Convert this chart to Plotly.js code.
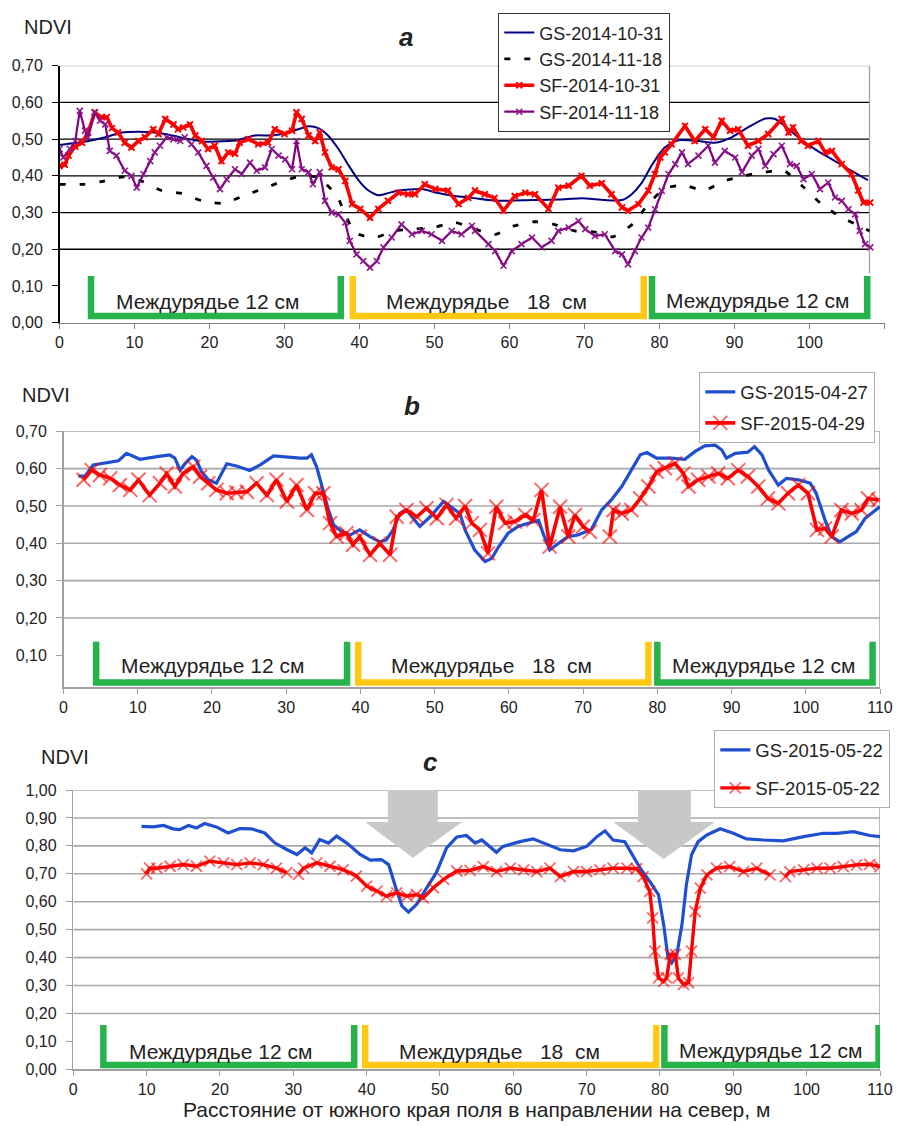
<!DOCTYPE html>
<html><head><meta charset="utf-8">
<script src="https://cdn.plot.ly/plotly-3.0.1.min.js"></script>
<style>html,body{margin:0;padding:0;background:#fff}</style>
</head><body><div id="chart" style="width:897px;height:1126px"></div>
<script>
// ---------- DATA (distance m, NDVI) ----------
// Panel a
const aGS1031 = [[0,0.484],[3.9,0.495],[6.1,0.505],[8.3,0.518],[10.5,0.52],[12.7,0.518],[15,0.51],[17.2,0.50],[19.4,0.493],[21.6,0.494],[23.8,0.497],[26,0.51],[28.3,0.51],[30.5,0.518],[33.2,0.535],[34.5,0.53],[35.8,0.51],[37.2,0.473],[38.5,0.43],[39.8,0.39],[41.2,0.36],[42.5,0.347],[43.8,0.353],[45.2,0.36],[48.3,0.364],[50.5,0.353],[52.7,0.345],[55,0.34],[58.5,0.332],[63,0.334],[67.4,0.336],[69.6,0.339],[72.7,0.334],[75,0.334],[76.3,0.35],[77.6,0.38],[79,0.43],[80.7,0.477],[82.5,0.497],[85.2,0.495],[87.4,0.49],[89.6,0.505],[91.8,0.532],[94.1,0.556],[95.4,0.555],[96.7,0.536],[98.5,0.505],[100.7,0.473],[103,0.445],[105.2,0.418],[107.8,0.388]];
const aGS1118 = [[0,0.377],[3.2,0.377],[5.8,0.385],[8.5,0.397],[11,0.385],[13.6,0.36],[16.3,0.352],[19,0.332],[21.8,0.325],[24.5,0.345],[27,0.364],[29.6,0.384],[32.3,0.40],[34.5,0.395],[37,0.345],[38,0.30],[39.4,0.245],[42,0.232],[44.7,0.25],[47.4,0.255],[50,0.26],[52.7,0.273],[55.4,0.255],[58,0.24],[60.5,0.263],[63.4,0.275],[65.9,0.268],[68.7,0.25],[71.4,0.247],[73.8,0.234],[76.5,0.27],[78.5,0.323],[80.7,0.365],[83.2,0.375],[85.9,0.36],[88.5,0.385],[91.2,0.40],[94.1,0.41],[96.5,0.415],[99,0.373],[101.6,0.323],[104,0.29],[107,0.26],[108,0.25]];
const aSF1031 = [[0,0.427],[0.7,0.43],[1.2,0.455],[2.1,0.48],[3,0.49],[3.8,0.518],[4.7,0.573],[5.6,0.56],[6.3,0.56],[7,0.53],[7.8,0.518],[8.7,0.49],[9.6,0.477],[10.5,0.495],[11.4,0.505],[12.5,0.527],[13.2,0.514],[14.1,0.555],[15.2,0.54],[15.8,0.527],[16.5,0.532],[17.4,0.54],[18.1,0.51],[19,0.495],[19.8,0.473],[20.7,0.482],[21.6,0.44],[22.5,0.464],[23.4,0.46],[24,0.49],[25.2,0.50],[26.5,0.486],[27.8,0.49],[28.7,0.527],[30,0.514],[31,0.523],[31.6,0.573],[32.3,0.555],[33.2,0.51],[34.1,0.495],[34.7,0.518],[35.4,0.464],[36.3,0.423],[37.2,0.418],[38.1,0.386],[39,0.323],[40.1,0.31],[41.4,0.286],[42.5,0.31],[43.8,0.332],[45.2,0.354],[46.5,0.35],[47.4,0.35],[48.7,0.377],[50.1,0.364],[51.8,0.36],[53.2,0.323],[54.5,0.34],[55.4,0.36],[56.7,0.35],[58,0.34],[59.2,0.305],[60.7,0.345],[62.1,0.354],[63.4,0.35],[65.2,0.31],[66.5,0.368],[67.9,0.373],[69.6,0.40],[70.7,0.373],[72.3,0.38],[73.6,0.35],[75,0.314],[75.8,0.305],[77.2,0.323],[78.5,0.36],[79.4,0.405],[80.1,0.45],[80.7,0.464],[81.6,0.486],[83.4,0.536],[84.7,0.495],[86.1,0.527],[87.2,0.505],[88.3,0.55],[89.4,0.523],[90.5,0.527],[91.8,0.482],[93.2,0.495],[94.5,0.514],[96.3,0.555],[97.2,0.518],[97.8,0.532],[98.9,0.495],[99.8,0.482],[101.2,0.495],[102.1,0.464],[103,0.468],[104.3,0.432],[105.6,0.405],[106.5,0.36],[107.2,0.327],[108.1,0.327]];
const aSF1118 = [[0,0.473],[0.5,0.45],[1.4,0.473],[2.1,0.495],[2.7,0.577],[3.4,0.523],[3.8,0.505],[4.7,0.573],[5.4,0.55],[6.1,0.54],[6.7,0.468],[7.6,0.455],[8.7,0.414],[9.6,0.40],[10.3,0.368],[11.2,0.405],[12.1,0.44],[12.7,0.464],[13.4,0.482],[14.3,0.505],[15.2,0.50],[16.1,0.495],[16.7,0.505],[17.6,0.486],[18.5,0.464],[19.6,0.427],[20.5,0.395],[21.4,0.364],[22.3,0.39],[23.4,0.418],[24.3,0.405],[25.4,0.436],[26.3,0.414],[27.4,0.423],[28.3,0.473],[29.2,0.455],[30.1,0.445],[31,0.418],[31.6,0.495],[32.3,0.418],[33.2,0.41],[33.8,0.377],[34.7,0.41],[35.4,0.332],[36.3,0.30],[37.2,0.295],[38.1,0.273],[38.7,0.223],[39.6,0.186],[40.5,0.168],[41.4,0.15],[42.3,0.168],[43.2,0.205],[44.3,0.232],[45.6,0.268],[47,0.241],[48.3,0.25],[49.6,0.241],[51,0.223],[52.3,0.25],[53.6,0.241],[55,0.264],[55.4,0.25],[57.2,0.214],[58.1,0.195],[59.2,0.155],[60.3,0.195],[61.6,0.214],[63,0.232],[64.3,0.205],[65.6,0.223],[66.5,0.25],[67.9,0.259],[69.2,0.277],[70.1,0.255],[71.4,0.236],[72.7,0.241],[74.1,0.195],[75,0.186],[75.8,0.159],[76.7,0.195],[77.6,0.232],[78.5,0.259],[79.4,0.309],[80.3,0.359],[81.2,0.405],[82.1,0.432],[83,0.464],[83.8,0.432],[85.2,0.455],[86.5,0.482],[87.4,0.436],[88.7,0.468],[90.1,0.45],[91,0.41],[92.3,0.455],[93.2,0.473],[94.1,0.427],[95.2,0.459],[96.3,0.482],[97.4,0.432],[98.3,0.427],[99.2,0.391],[100.3,0.405],[101.4,0.364],[102.5,0.382],[103.4,0.341],[104.3,0.332],[105.2,0.309],[106.1,0.295],[106.7,0.25],[107.4,0.214],[108.1,0.205]];
// Panel b
const bGS0427 = [[2,0.58],[2.9,0.58],[4,0.61],[5.4,0.614],[7.4,0.621],[8.5,0.641],[10.3,0.625],[12.6,0.632],[14.3,0.637],[15,0.628],[15.7,0.596],[16.4,0.614],[17.3,0.632],[17.9,0.623],[18.6,0.592],[19.5,0.57],[20.6,0.561],[22,0.613],[23.3,0.607],[25.1,0.595],[26.5,0.61],[28.3,0.634],[30.1,0.63],[31.9,0.628],[32.8,0.628],[33.4,0.637],[34.1,0.605],[35,0.543],[35.7,0.489],[36.4,0.449],[37.5,0.431],[38.6,0.422],[39.9,0.436],[41.3,0.418],[42.6,0.404],[43.5,0.409],[44.4,0.436],[45.3,0.48],[46.2,0.489],[48,0.445],[49.4,0.471],[51.2,0.512],[53.4,0.48],[54.1,0.436],[55.4,0.382],[56.8,0.351],[57.7,0.36],[58.6,0.39],[59.9,0.427],[61.3,0.446],[63.1,0.458],[64,0.462],[64.6,0.427],[65.5,0.382],[66.7,0.40],[68,0.418],[69.3,0.422],[71.1,0.437],[72.5,0.489],[73.8,0.516],[75.2,0.552],[76.5,0.596],[77.7,0.637],[78.6,0.643],[79.9,0.628],[81.9,0.628],[83.7,0.625],[85.1,0.646],[86.4,0.661],[87.8,0.663],[88.7,0.65],[89.3,0.628],[90.5,0.641],[92.2,0.644],[93.1,0.659],[94.1,0.637],[95,0.596],[96.3,0.556],[97.4,0.574],[99,0.57],[100.6,0.561],[101.4,0.534],[102.6,0.462],[103.5,0.418],[104.6,0.404],[105.7,0.418],[106.8,0.431],[108,0.467],[110,0.498]];
const bSF0429 = [[2.7,0.57],[3.8,0.596],[4.9,0.583],[6.3,0.574],[7.6,0.556],[9,0.543],[10.1,0.57],[11.6,0.529],[13,0.561],[13.9,0.587],[15,0.552],[16.1,0.587],[17.5,0.605],[18.4,0.579],[19.5,0.561],[20.6,0.543],[22,0.534],[23.3,0.536],[24.7,0.538],[26,0.561],[27.4,0.529],[28.7,0.57],[30.1,0.512],[31.4,0.556],[32.8,0.489],[33.9,0.534],[35,0.534],[35.9,0.454],[36.8,0.418],[38.1,0.427],[39,0.396],[39.9,0.418],[41.3,0.369],[42.6,0.40],[44,0.369],[44.9,0.471],[46.2,0.489],[47.6,0.471],[48.9,0.494],[50.3,0.467],[51.6,0.503],[52.9,0.467],[54.1,0.50],[55,0.454],[56.1,0.436],[57.2,0.373],[58.3,0.498],[59.5,0.454],[60.8,0.458],[62.2,0.476],[63.3,0.462],[64.4,0.543],[65.5,0.391],[66.9,0.498],[68,0.418],[68.9,0.476],[70,0.445],[70.9,0.431],[72,null],[73.6,0.418],[74.1,0.489],[75.2,0.48],[76.5,0.489],[77.7,0.52],[78.8,0.552],[79.9,0.592],[81,0.601],[82.4,0.614],[83.5,0.587],[84.2,0.552],[85.5,0.57],[86.9,0.579],[88.2,0.587],[89.5,0.574],[90.9,0.596],[92.2,0.579],[93.6,0.552],[94.9,0.52],[96.3,0.507],[97.6,0.534],[99,0.556],[100.3,0.534],[101.5,0.436],[102.6,0.44],[103.5,0.418],[104.8,0.489],[106.2,0.48],[107.5,0.489],[108.4,0.52],[109.8,0.516]];
// Panel c
const cGS0522 = [[9.3,0.87],[10.9,0.868],[12.3,0.873],[13.6,0.861],[14.5,0.858],[15.7,0.873],[16.8,0.864],[17.9,0.88],[19.5,0.868],[21.1,0.846],[22.7,0.862],[24.3,0.861],[26.1,0.846],[27.5,0.81],[29.1,0.787],[30.5,0.769],[31.6,0.793],[32.5,0.775],[33.6,0.823],[34.8,0.81],[35.9,0.835],[37.3,0.81],[39.1,0.769],[40.5,0.749],[42,0.751],[43,0.733],[43.9,0.656],[44.8,0.585],[45.7,0.563],[46.8,0.59],[48.2,0.65],[49.5,0.704],[50.9,0.793],[52.3,0.832],[53.6,0.837],[54.8,0.81],[55.7,0.821],[56.8,0.798],[57.7,0.777],[58.6,0.798],[60.9,0.815],[62.7,0.825],[64.6,0.804],[66.4,0.786],[68.2,0.782],[70,0.798],[71.4,0.833],[72.5,0.854],[73.6,0.821],[75.2,0.815],[76.1,0.774],[77.3,0.72],[78.6,0.673],[79.8,0.625],[80.5,0.518],[81.1,0.399],[81.6,0.381],[82.3,0.411],[83,0.518],[83.6,0.661],[84.3,0.768],[85.2,0.815],[86.4,0.839],[88.2,0.861],[90,0.845],[91.8,0.825],[94.1,0.821],[96.8,0.818],[99.6,0.833],[102.3,0.845],[104.1,0.845],[106.4,0.851],[108.6,0.837],[110,0.833]];
const cSF0522 = [[10,0.70],[10.4,0.72],[11.4,0.72],[13.2,0.727],[15,0.733],[16.8,0.727],[18.6,0.745],[20.5,0.739],[22.3,0.733],[24.1,0.739],[25.9,0.733],[27.7,0.72],[29.1,0.704],[29.8,null],[30.7,0.698],[31.4,0.72],[33.2,0.739],[35,0.727],[36.8,0.715],[38.6,0.692],[40,0.656],[41.4,0.638],[42.7,0.62],[44.1,0.632],[45.5,0.62],[46.8,0.626],[47.7,0.614],[49.1,0.65],[50.5,0.68],[52.3,0.71],[54.1,0.712],[55.9,0.726],[57.7,0.708],[59.6,0.72],[61.4,0.714],[63.2,0.708],[65,0.72],[66.4,0.69],[68.2,0.708],[70,0.708],[71.8,0.714],[73.6,0.72],[75.5,0.72],[76.8,0.718],[77.7,0.69],[78.6,0.637],[79,0.542],[79.3,0.423],[79.8,0.327],[80.5,0.315],[80.9,0.327],[81.4,0.411],[82.1,0.411],[82.5,0.327],[83.2,0.304],[83.9,0.31],[84.3,0.423],[84.8,0.565],[85.5,0.649],[86.4,0.696],[87.7,0.72],[89.5,0.726],[91.4,0.708],[93.2,0.72],[95,0.696],[96,null],[97.1,0.69],[97.7,0.708],[99.6,0.714],[101.4,0.72],[103.2,0.72],[105,0.726],[106.8,0.732],[108.6,0.734],[110,0.726]];

// zone labels and extents (m)
const zoneLabels = ['Междурядье 12 см', 'Междурядье\u00a0\u00a0\u00a018\u00a0\u00a0см', 'Междурядье 12 см'];
const xTicks = [0,10,20,30,40,50,60,70,80,90,100,110];

// ---------- helpers ----------
const FONT = 'Arial, "Liberation Sans", sans-serif';
const TXT = '#222';
const xs = d => d.map(p => p[0]);
const ys = d => d.map(p => p[1]);

const traces = [
  {x: xs(aGS1031), y: ys(aGS1031), xaxis:'x', yaxis:'y', name:'GS-2014-10-31', mode:'lines',
   line:{color:'#000080', width:2, shape:'spline', smoothing:0.6}, legend:'legend'},
  {x: xs(aGS1118), y: ys(aGS1118), xaxis:'x', yaxis:'y', name:'GS-2014-11-18', mode:'lines',
   line:{color:'#000', width:2.8, dash:'6px,14px', shape:'spline', smoothing:0.6}, legend:'legend'},
  {x: xs(aSF1031), y: ys(aSF1031), xaxis:'x', yaxis:'y', name:'SF-2014-10-31', mode:'lines+markers',
   line:{color:'#ff0000', width:3.6}, marker:{symbol:'x-thin', size:6, line:{color:'#ff0000', width:2}}, legend:'legend'},
  {x: xs(aSF1118), y: ys(aSF1118), xaxis:'x', yaxis:'y', name:'SF-2014-11-18', mode:'lines+markers',
   line:{color:'#800080', width:2.2}, marker:{symbol:'x-thin', size:6, line:{color:'#8a1a8a', width:1.6}}, legend:'legend'},

  {x: xs(bGS0427), y: ys(bGS0427), xaxis:'x2', yaxis:'y2', name:'GS-2015-04-27', mode:'lines',
   line:{color:'#1f4fd1', width:3.2}, legend:'legend2', legendgroup:'b1'},
  {x: xs(bSF0429), y: ys(bSF0429), xaxis:'x2', yaxis:'y2', name:'SF-2015-04-29', mode:'lines+markers',
   line:{color:'#ff0000', width:3.6}, marker:{symbol:'x-thin', size:14, line:{color:'rgba(255,0,0,0.6)', width:2}}, legend:'legend2', legendgroup:'b2'},

  {x: xs(cGS0522), y: ys(cGS0522), xaxis:'x3', yaxis:'y3', name:'GS-2015-05-22', mode:'lines',
   line:{color:'#1f4fd1', width:3.2}, legend:'legend3', legendgroup:'c1'},
  {x: xs(cSF0522), y: ys(cSF0522), xaxis:'x3', yaxis:'y3', name:'SF-2015-05-22', mode:'lines+markers',
   line:{color:'#ff0000', width:3.4}, marker:{symbol:'x-thin', size:11, line:{color:'rgba(255,0,0,0.6)', width:1.8}}, legend:'legend3', legendgroup:'c2'}
];

// ---------- layout decorations ----------
const shapes = [];
function hline(xr, yr, x0, x1, y, color, w){ shapes.push({type:'line', xref:xr, yref:yr, x0:x0, x1:x1, y0:y, y1:y, line:{color:color, width:w}, layer:'below'}); }
function vline(xr, yr, x, y0, y1, color, w){ shapes.push({type:'line', xref:xr, yref:yr, x0:x, x1:x, y0:y0, y1:y1, line:{color:color, width:w}, layer:'below'}); }
// panel a grid
[0.2,0.3,0.4,0.5,0.6].forEach(v => hline('x','y',0,108,v,'#000',1.3));
hline('x','y',0,108,0.7,'#a0a0a0',1.3);
vline('x','y',108,0.135,0.7,'#a0a0a0',1.3);
// panel b grid
[0.2,0.3,0.4,0.5,0.6,0.7].forEach(v => hline('x2','y2',0,110,v,'#a8a8a8',1.6));
vline('x2','y2',110,0.015,0.7,'#a8a8a8',1.6);
// panel c grid
[0.2,0.3,0.4,0.5,0.6,0.7,0.8,0.9,1.0].forEach(v => hline('x3','y3',0,110,v,'#a8a8a8',1.6));
vline('x3','y3',110,0,1.0,'#a8a8a8',1.6);

// brackets
const GREEN = '#27b34b', YEL = '#ffc814';
function bracket(xr, yr, xa, xb, top, bot, color){
  shapes.push({type:'path', xref:xr, yref:yr, path:`M${xa},${top} L${xa},${bot} L${xb},${bot} L${xb},${top}`,
    line:{color:color, width:6.5}, layer:'above'});
}
bracket('x','y',4.2,37.5,0.127,0.018,GREEN);
bracket('x','y',39.1,77.9,0.127,0.018,YEL);
bracket('x','y',79.0,107.7,0.127,0.018,GREEN);
bracket('x2','y2',4.4,38.2,0.136,0.027,GREEN);
bracket('x2','y2',39.7,78.8,0.136,0.027,YEL);
bracket('x2','y2',80.0,109.0,0.136,0.027,GREEN);
bracket('x3','y3',4.1,38.3,0.159,0.015,GREEN);
bracket('x3','y3',39.8,79.5,0.159,0.015,YEL);
bracket('x3','y3',80.6,109.8,0.159,0.015,GREEN);

// arrows in panel c
shapes.push({type:'path', xref:'x3', yref:'y3', layer:'between', fillcolor:'#c8c8c8', line:{width:0},
  path:'M42.9,1.0 L49.7,1.0 L49.7,0.885 L53.0,0.885 L46.3,0.757 L39.8,0.885 L42.9,0.885 Z'});
shapes.push({type:'path', xref:'x3', yref:'y3', layer:'between', fillcolor:'#c8c8c8', line:{width:0},
  path:'M77.0,1.0 L84.2,1.0 L84.2,0.885 L87.5,0.885 L80.5,0.753 L73.6,0.885 L77.0,0.885 Z'});

const W = 897, H = 1126;
function ann(text, px, py, size, extra){
  return Object.assign({text:text, xref:'paper', yref:'paper', x:px/W, y:1-py/H, xanchor:'center', yanchor:'middle',
    showarrow:false, font:{family:FONT, size:size, color:TXT}}, extra||{});
}
const annotations = [
  ann('NDVI', 48, 27, 20), ann('NDVI', 46, 395, 20), ann('NDVI', 65, 757, 20),
  ann('<b><i>a</i></b>', 406, 37, 26), ann('<b><i>b</i></b>', 412, 406, 26), ann('<b><i>c</i></b>', 430, 762, 26),
  ann(zoneLabels[0], 207, 302, 21), ann(zoneLabels[1], 486, 302, 21), ann(zoneLabels[2], 757, 300, 21),
  ann(zoneLabels[0], 212, 666, 21), ann(zoneLabels[1], 492, 666, 21), ann(zoneLabels[2], 763, 665, 21),
  ann(zoneLabels[0], 220, 1051, 21), ann(zoneLabels[1], 499, 1051, 21), ann(zoneLabels[2], 770, 1050, 21)
];

const tickFont = {family:FONT, size:16, color:TXT};
function xax(domain, anchor, lc){
  return {domain:domain, anchor:anchor, range:[0,110], tickvals:xTicks, ticks:'outside', ticklen:5, tickcolor:lc,
    showline:true, linecolor:lc, linewidth:1.5, showgrid:false, zeroline:false, tickfont:tickFont, fixedrange:true};
}
function yax(domain, anchor, range, lc){
  return {domain:domain, anchor:anchor, range:range, tick0:0, dtick:0.1, tickformat:'.2f', ticks:'outside', ticklen:6,
    tickcolor:lc, showline:true, linecolor:lc, linewidth:1.5, showgrid:false, zeroline:false, tickfont:tickFont,
    ticklabelstandoff:6, fixedrange:true};
}
const legFont = s => ({family:FONT, size:s, color:TXT});
const layout = {
  width:W, height:H, autosize:false, margin:{l:0,r:0,t:0,b:0},
  paper_bgcolor:'#fff', plot_bgcolor:'rgba(0,0,0,0)', separators:', ', showlegend:true,
  xaxis: xax([59.5/W, 884.5/W], 'y', '#808080'),
  yaxis: yax([1-322.7/H, 1-65.7/H], 'x', [0,0.70], '#000'),
  xaxis2: xax([63.5/W, 880/W], 'y2', '#a0a0a0'),
  yaxis2: yax([1-687/H, 1-431.3/H], 'x2', [0.015,0.70], '#a0a0a0'),
  xaxis3: Object.assign(xax([73.3/W, 880/W], 'y3', '#a0a0a0'),
    {title:{text:'Расстояние от южного края поля в направлении на север, м', font:{family:FONT, size:21, color:TXT}, standoff:5}}),
  yaxis3: yax([1-1069.3/H, 1-790/H], 'x3', [0,1.0], '#a0a0a0'),
  legend:{x:498/W, y:1-13/H, xanchor:'left', yanchor:'top', bgcolor:'#fff', bordercolor:'#333', borderwidth:1.3,
    font:legFont(18), traceorder:'normal'},
  legend2:{x:699/W, y:1-372/H, xanchor:'left', yanchor:'top', bgcolor:'#fff', bordercolor:'#b0b0b0', borderwidth:1.3,
    font:legFont(18.5), traceorder:'grouped', tracegroupgap:4},
  legend3:{x:714/W, y:1-730/H, xanchor:'left', yanchor:'top', bgcolor:'#fff', bordercolor:'#b0b0b0', borderwidth:1.3,
    font:legFont(18.5), traceorder:'grouped', tracegroupgap:11},
  shapes:shapes, annotations:annotations
};
Plotly.newPlot('chart', traces, layout, {staticPlot:true, displayModeBar:false});
</script></body></html>
